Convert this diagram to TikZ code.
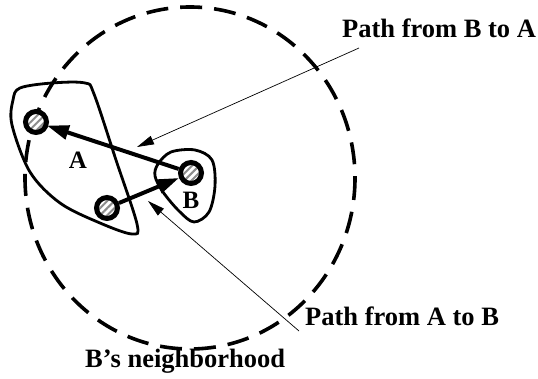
\documentclass[tikz,border=0pt]{standalone}
\usepackage{fontspec}
\setmainfont{Liberation Serif}
\usepackage{tikz}
\usetikzlibrary{arrows.meta,patterns.meta}
\definecolor{hgray}{HTML}{8C8C8C}
\tikzset{
  host/.style={circle,draw=black,line width=5pt,minimum size=21pt,inner sep=0pt,preaction={fill=white},pattern={Lines[angle=45,distance=5pt,line width=2pt]},pattern color=hgray},
  region/.style={draw=black,line width=2.8pt,smooth cycle,tension=0.55},
  hood/.style={draw=black,line width=3.6pt,dash pattern=on 22pt off 12pt},
  path arr/.style={-{Triangle[length=22pt,width=14pt]},line width=4pt},
  note arr/.style={-{Triangle[length=17pt,width=9pt]},line width=0.7pt},
  lbl/.style={font=\fontsize{26.5}{30}\selectfont\bfseries,inner sep=0pt,anchor=base west},
  tag/.style={font=\fontsize{25}{28}\selectfont\bfseries,inner sep=0pt},
}
\begin{document}
\begin{tikzpicture}[x=1pt,y=-1pt]
  \useasboundingbox (0,0) rectangle (538,379);
  % neighborhood of B
  \draw[hood] (190,178) ellipse [x radius=165, y radius=171];
  % regions
  \draw[region] plot coordinates {(20,88) (52,83) (85,83) (94,94) (116,160) (137,224) (132,234) (100,223) (60,203) (30,172) (12,125) (13,100)};
  \draw[region] plot coordinates {(158,164) (171,152) (195,150) (212,160) (215,186) (209,212) (194,222) (179,211) (163,192) (155,176)};
  % hosts
  \node[host] (a1) at (36,122) {};
  \node[host] (a2) at (107,208) {};
  \node[host] (b) at (191,173) {};
  \node[tag] (la) at (78,160) {A};
  \node[tag] (lb) at (191,200) {B};
  % paths
  \draw[path arr] (b) -- (a1);
  \draw[path arr] (a2) -- (b);
  % labels
  \node[lbl] (ba) at (342,38) {Path from B to A};
  \node[lbl] (ab) at (305,325) {Path from A to B};
  \node[lbl] (nb) at (85,367) {B’s neighborhood};
  \coordinate (s1) at (359,48);
  \coordinate (t1) at (137,147);
  \coordinate (s2) at (299,331);
  \coordinate (t2) at (148,201);
  \draw[note arr] (s1) -- (t1);
  \draw[note arr] (s2) -- (t2);
\end{tikzpicture}
\end{document}
